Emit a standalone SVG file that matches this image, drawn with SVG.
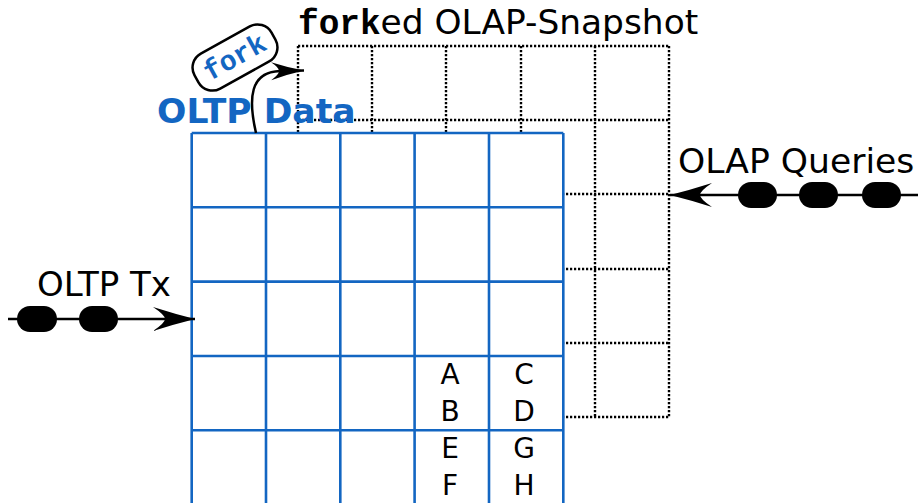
<svg xmlns="http://www.w3.org/2000/svg" width="918" height="503" viewBox="0 0 918 503">
<defs>
<style>
.dot{stroke:#000;stroke-width:2.4;stroke-dasharray:2.2 1.8;fill:none}
.blue{stroke:#1366c2;stroke-width:2.6;fill:none}
.lbl{font-family:"DejaVu Sans",sans-serif;fill:#000}
.mono{font-family:"Liberation Mono","Courier New",monospace;font-weight:bold}
.line{stroke:#000;stroke-width:2.5;fill:none}
.pill{fill:#000}
.cell{font-family:"DejaVu Sans",sans-serif;font-size:28px;fill:#000;text-anchor:middle}
</style>
<marker id="bigArrow" markerUnits="userSpaceOnUse" markerWidth="46" markerHeight="30" refX="42" refY="12" orient="auto" viewBox="0 0 46 30">
<path d="M42,12 Q22,7 0,0 Q12,8 12,12 Q12,16 0,24 Q22,17 42,12 Z" fill="#000"/>
</marker>
<marker id="smallArrow" markerUnits="userSpaceOnUse" markerWidth="38" markerHeight="24" refX="33" refY="9" orient="auto" viewBox="0 0 38 24">
<path d="M33,9 Q16,5.5 0,0 Q8,5.5 8,9 Q8,12.5 0,18 Q16,12.5 33,9 Z" fill="#000"/>
</marker>
</defs>
<rect width="918" height="503" fill="#fff"/>

<g id="olap-snapshot">
<text class="lbl" x="298" y="34" font-size="34.4"><tspan class="mono">fork</tspan>ed OLAP-Snapshot</text>
<g class="dot">
<path d="M298,46V418M372,46V418M446,46V418M521,46V418M595,46V418M669,46V418"/>
<path d="M298,46H670M298,120H670M298,194H670M298,269H670M298,343H670M298,417H670"/>
</g>
</g>

<g id="oltp-data">
<rect x="191.7" y="133" width="371.6" height="380" fill="#fff"/>
<g class="blue">
<path d="M191.7,133V510M266,133V510M340.3,133V510M414.6,133V510M489,133V510M563.3,133V510"/>
<path d="M191.7,133H563.3M191.7,207.3H563.3M191.7,281.6H563.3M191.7,356H563.3M191.7,430.3H563.3"/>
</g>
<text class="cell" x="450" y="384">A</text>
<text class="cell" x="450" y="421">B</text>
<text class="cell" x="450" y="458">E</text>
<text class="cell" x="450" y="495">F</text>
<text class="cell" x="524" y="384">C</text>
<text class="cell" x="524" y="421">D</text>
<text class="cell" x="524" y="458">G</text>
<text class="cell" x="524" y="495">H</text>
<text x="157" y="123" font-family="DejaVu Sans,sans-serif" font-weight="bold" font-size="34.6" fill="#1366c2">OLTP Data</text>
</g>

<g id="fork-label" transform="rotate(-29 235 57.5)">
<rect x="191" y="37.5" width="88" height="40" rx="16" fill="#fff" stroke="#000" stroke-width="2.5"/>
<text class="mono" x="235" y="66" font-size="28" text-anchor="middle" fill="#1366c2">fork</text>
</g>

<g id="oltp-tx">
<text class="lbl" x="37" y="296" font-size="34">OLTP Tx</text>
<rect class="pill" x="17" y="306" width="40" height="26" rx="13"/>
<rect class="pill" x="79" y="306" width="39" height="26" rx="13"/>
</g>

<g id="olap-queries">
<text class="lbl" x="678" y="173" font-size="34.6">OLAP Queries</text>
<rect class="pill" x="738" y="182" width="39" height="26" rx="13"/>
<rect class="pill" x="799" y="182" width="39" height="26" rx="13"/>
<rect class="pill" x="862" y="182" width="39" height="26" rx="13"/>
</g>

<g id="connectors">
<path class="line" d="M256,133 C248,98 250,72 280,71 L304,70.5" stroke-width="3" marker-end="url(#smallArrow)"/>
<path class="line" d="M8,319 H195" marker-end="url(#bigArrow)"/>
<path class="line" d="M918,195 H670" marker-end="url(#bigArrow)"/>
</g>
</svg>
